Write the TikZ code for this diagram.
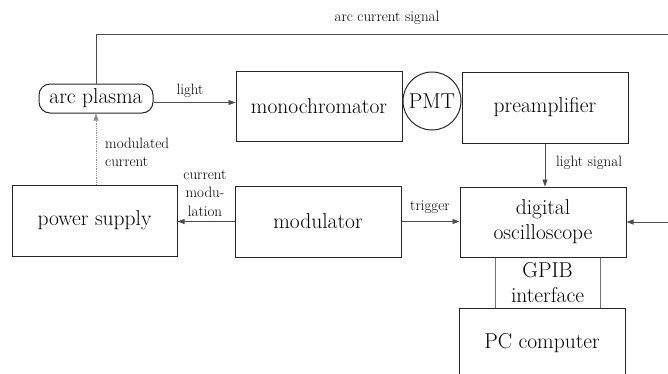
\documentclass[tikz,border=0pt]{standalone}
\usetikzlibrary{arrows.meta}

\begin{document}
\begin{tikzpicture}[x=1pt,y=-1pt,
  box/.style={draw=black!85,line width=1pt,minimum width=166pt,minimum height=70pt,
              inner sep=2pt,align=center,font=\fontsize{21.5}{25}\selectfont},
  lbl/.style={font=\fontsize{15}{18.5}\selectfont,inner sep=0pt},
  wire/.style={draw=black!70,line width=0.8pt,-{Triangle[length=7pt,width=5pt]}}]
\clip (0,0) rectangle (668,373);
% blocks
\node[box,rounded corners=11pt,minimum width=114pt,minimum height=29pt] (plasma) at (96,98.5) {arc plasma};
\node[box] (mono) at (319,106) {monochromator};
\node[box,circle,minimum size=58pt,inner sep=0pt] (pmt) at (432,101) {PMT};
\node[box,minimum height=71pt] (preamp) at (545,107.5) {preamplifier};
\node[box,draw=black!55,minimum width=105pt,minimum height=51pt] (gpib) at (547.5,282.5) {GPIB\\interface};
\node[box] (scope) at (543,222) {digital\\oscilloscope};
\node[box] (pc) at (542,343) {PC computer};
\node[box,minimum width=165pt,minimum height=71pt] (power) at (94.5,220.5) {power supply};
\node[box,minimum height=71pt] (modul) at (318,221.5) {modulator};
% connectors
\coordinate (farright) at (690,34);
\draw[wire] (plasma.north) |- (farright) |- (scope.east);
\node[lbl] (arclbl) at (387,18) {arc current signal};
\draw[wire] ([yshift=-4pt]plasma.east) -- ([yshift=-4pt]plasma.east -| mono.west);
\node[lbl] (lightlbl) at (190,91) {light};
\draw[wire,densely dotted,draw=black!45] (plasma.south |- power.north) -- (plasma.south);
\node[lbl,anchor=west,align=left] (modlbl) at (105,152.5) {modulated\\current};
\draw[wire] (modul.west) -- (modul.west -| power.east);
\node[lbl,align=center] (curlbl) at (205,193) {current\\modu-\\lation};
\draw[wire] (modul.east) -- (modul.east -| scope.west);
\node[lbl] (triglbl) at (430,207) {trigger};
\draw[wire] (preamp.south) -- (preamp.south |- scope.north);
\node[lbl,anchor=west] (siglbl) at (556,163) {light signal};
\end{tikzpicture}
\end{document}
